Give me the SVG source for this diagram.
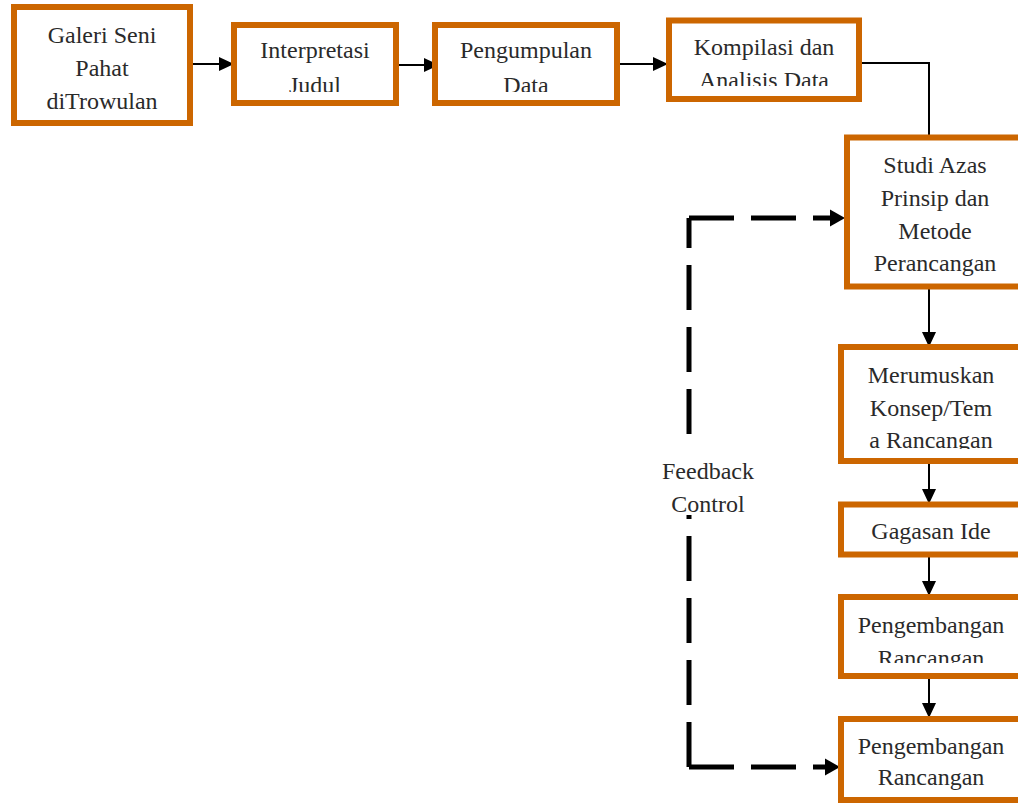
<svg xmlns="http://www.w3.org/2000/svg" width="1018" height="803" viewBox="0 0 1018 803">
<style>
.box{fill:#fff;stroke:#cc6600;stroke-width:6}
.t{font-family:"Liberation Serif","Times New Roman",serif;font-size:24px;fill:#2a2a2a;text-anchor:middle}
.ln{fill:none;stroke:#000;stroke-width:2}
.dl{fill:none;stroke:#000;stroke-width:5;stroke-dasharray:45 17}
</style>
<defs>
<marker id="ah" markerWidth="15" markerHeight="14" refX="14" refY="7" orient="auto" markerUnits="userSpaceOnUse">
<path d="M0,0 L15,7 L0,14 Z" fill="#000"/>
</marker>
<clipPath id="c2"><rect x="234" y="25" width="162" height="67"/></clipPath>
<clipPath id="c3"><rect x="435" y="25" width="182" height="67"/></clipPath>
<clipPath id="c4"><rect x="669" y="20" width="190" height="66"/></clipPath>
<clipPath id="c6"><rect x="841" y="347" width="180" height="102"/></clipPath>
<clipPath id="c8"><rect x="841" y="597" width="180" height="66"/></clipPath>
</defs>
<rect width="1018" height="803" fill="#fff"/>
<g id="connectors">
<line class="ln" x1="193" y1="64" x2="233" y2="64" marker-end="url(#ah)"/>
<line class="ln" x1="399" y1="65" x2="438" y2="65" marker-end="url(#ah)"/>
<line class="ln" x1="620" y1="64" x2="667" y2="64" marker-end="url(#ah)"/>
<polyline class="ln" points="862,63 929,63 929,137"/>
<line class="ln" x1="929" y1="289" x2="929" y2="346" marker-end="url(#ah)"/>
<line class="ln" x1="929" y1="464" x2="929" y2="503" marker-end="url(#ah)"/>
<line class="ln" x1="929" y1="557" x2="929" y2="595" marker-end="url(#ah)"/>
<line class="ln" x1="929" y1="679" x2="929" y2="717" marker-end="url(#ah)"/>
<line class="dl" x1="689" y1="434" x2="689" y2="218"/>
<line class="dl" x1="689" y1="218" x2="832" y2="218"/>
<path d="M830,209.5 L845,218 L830,226.5 Z" fill="#000"/>
<line class="dl" x1="689" y1="767" x2="689" y2="515"/>
<line class="dl" x1="689" y1="767" x2="827" y2="767"/>
<path d="M825,758.5 L840,767 L825,775.5 Z" fill="#000"/>
</g>
<g id="n1"><rect class="box" x="14" y="7" width="176" height="116"/>
<text class="t" x="102" y="43">Galeri Seni</text><text class="t" x="102" y="76">Pahat</text><text class="t" x="102" y="109">diTrowulan</text></g>
<g id="n2"><rect class="box" x="234" y="25" width="162" height="78"/>
<g clip-path="url(#c2)"><text class="t" x="315" y="58">Interpretasi</text><text class="t" x="315" y="93">Judul</text></g></g>
<g id="n3"><rect class="box" x="435" y="25" width="182" height="78"/>
<g clip-path="url(#c3)"><text class="t" x="526" y="58">Pengumpulan</text><text class="t" x="526" y="93">Data</text></g></g>
<g id="n4"><rect class="box" x="669" y="20.5" width="190" height="78.5"/>
<g clip-path="url(#c4)"><text class="t" x="764" y="55">Kompilasi dan</text><text class="t" x="764" y="88">Analisis Data</text></g></g>
<g id="n5"><rect class="box" x="847" y="137.5" width="176" height="149"/>
<text class="t" x="935" y="173">Studi Azas</text><text class="t" x="935" y="206">Prinsip dan</text><text class="t" x="935" y="239">Metode</text><text class="t" x="935" y="271">Perancangan</text></g>
<g id="n6"><rect class="box" x="841" y="347" width="180" height="114"/>
<g clip-path="url(#c6)"><text class="t" x="931" y="383">Merumuskan</text><text class="t" x="931" y="416">Konsep/Tem</text><text class="t" x="931" y="448">a Rancangan</text></g></g>
<g id="n7"><rect class="box" x="841" y="504.5" width="180" height="50"/>
<text class="t" x="931" y="539">Gagasan Ide</text></g>
<g id="n8"><rect class="box" x="841" y="597" width="180" height="79"/>
<g clip-path="url(#c8)"><text class="t" x="931" y="633">Pengembangan</text><text class="t" x="931" y="666">Rancangan</text></g></g>
<g id="n9"><rect class="box" x="841" y="719" width="180" height="81"/>
<text class="t" x="931" y="754">Pengembangan</text><text class="t" x="931" y="785">Rancangan</text></g>
<g id="label"><text class="t" x="708" y="479">Feedback</text><text class="t" x="708" y="512">Control</text></g>
</svg>
